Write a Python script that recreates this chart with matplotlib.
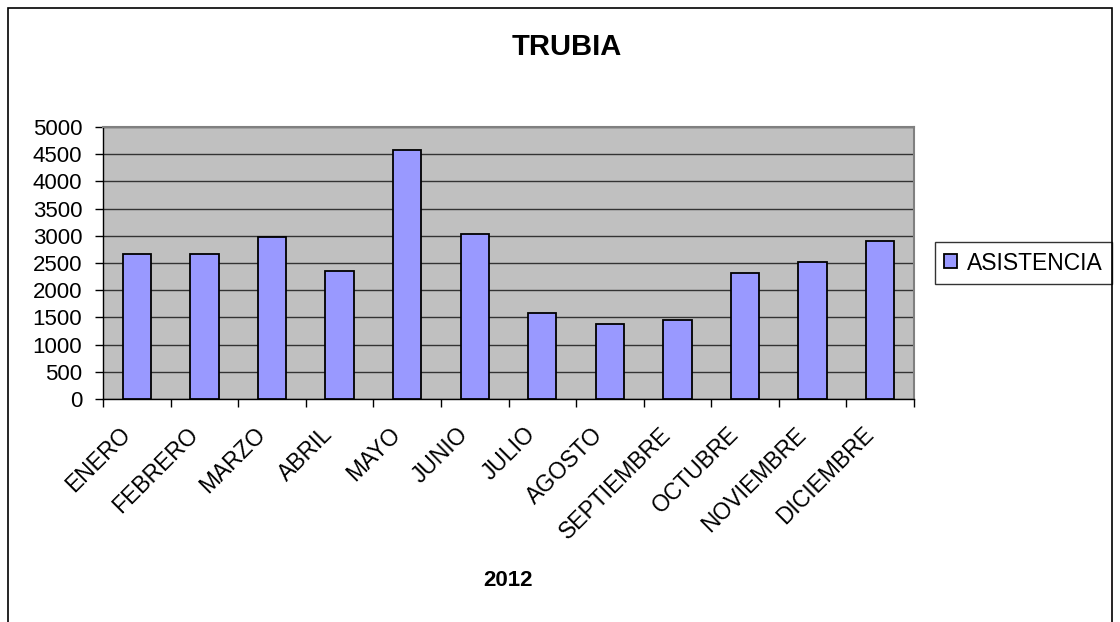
import numpy as np
import matplotlib.pyplot as plt
from matplotlib.patches import Rectangle
from matplotlib.transforms import ScaledTranslation

plt.rcParams["font.family"] = ["Liberation Sans", "DejaVu Sans"]

# Data
months = ["ENERO", "FEBRERO", "MARZO", "ABRIL", "MAYO", "JUNIO", "JULIO",
          "AGOSTO", "SEPTIEMBRE", "OCTUBRE", "NOVIEMBRE", "DICIEMBRE"]
asistencia = [2670, 2670, 2980, 2355, 4575, 3040, 1585, 1375, 1450, 2320, 2525, 2910]
y_ticks = list(range(0, 5001, 500))

fig = plt.figure(figsize=(11.2, 6.22), dpi=100)

# Outer chart border
fig.patches.append(Rectangle((8 / 1120, -0.05), 1104 / 1120, 1 - 8 / 622 + 0.05,
                             transform=fig.transFigure, fill=False,
                             edgecolor="black", linewidth=1.2))

ax = fig.add_axes([103 / 1120, 1 - 399 / 622, 811 / 1120, 272 / 622])
ax.set_facecolor("#C0C0C0")

x = np.arange(len(months))
ax.bar(x, asistencia, width=0.42, color="#9999FF", edgecolor="black",
       linewidth=1.3, label="ASISTENCIA", zorder=3)

ax.set_xlim(-0.5, len(months) - 0.5)
ax.set_ylim(0, 5000)
ax.set_yticks(y_ticks)
ax.tick_params(axis="y", labelsize=16, length=6, width=1, direction="out", pad=9)
ax.yaxis.grid(True, color="#333333", linewidth=1, zorder=1)

# Category labels without ticks, boundary ticks as minor
ax.set_xticks(x)
ax.set_xticklabels(months, rotation=45, ha="right", va="center",
                   rotation_mode="anchor", fontsize=16.5)
ax.tick_params(axis="x", which="major", length=0, pad=23)
shift = ScaledTranslation(-10 / 100, 0, fig.dpi_scale_trans)
for lab in ax.get_xticklabels():
    lab.set_transform(lab.get_transform() + shift)
ax.set_xticks(np.arange(-0.5, len(months), 1), minor=True)
ax.tick_params(axis="x", which="minor", length=6, width=1, direction="out")

for side in ["left", "bottom"]:
    ax.spines[side].set_color("black")
    ax.spines[side].set_linewidth(1)
for side in ["top", "right"]:
    ax.spines[side].set_color("#808080")
    ax.spines[side].set_linewidth(1.5)

fig.text(567 / 1120, 1 - 47 / 622, "TRUBIA", ha="center", va="center",
         fontsize=21, fontweight="bold")
fig.text(508 / 1120, 1 - 580 / 622, "2012", ha="center", va="center",
         fontsize=16, fontweight="bold")

leg = ax.legend(loc="center left", bbox_to_anchor=(935 / 1120, 1 - 263 / 622),
                bbox_transform=fig.transFigure, fontsize=16.5, frameon=True,
                fancybox=False, edgecolor="black", handlelength=0.55,
                handleheight=0.55, handletextpad=0.45, borderpad=0.4,
                borderaxespad=0)
leg.get_frame().set_linewidth(1)

fig.savefig("out.png", dpi=100)
